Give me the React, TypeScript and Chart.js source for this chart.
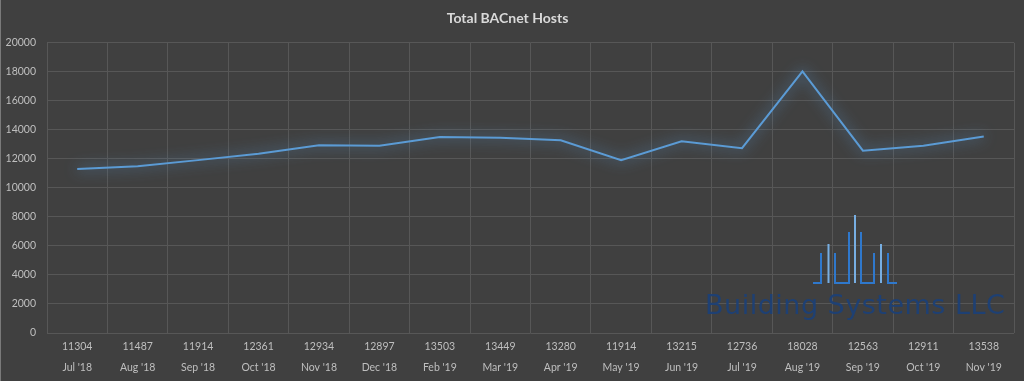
import React, { useEffect, useRef } from "react";
import { Chart, registerables } from "chart.js";

Chart.register(...registerables);

const months = ["Jul '18", "Aug '18", "Sep '18", "Oct '18", "Nov '18", "Dec '18", "Feb '19", "Mar '19", "Apr '19", "May '19", "Jun '19", "Jul '19", "Aug '19", "Sep '19", "Oct '19", "Nov '19"];
const hosts = [11304, 11487, 11914, 12361, 12934, 12897, 13503, 13449, 13280, 11914, 13215, 12736, 18028, 12563, 12911, 13538];
const yTicks = [0, 2000, 4000, 6000, 8000, 10000, 12000, 14000, 16000, 18000, 20000];

const FONT = "Lato, 'Open Sans', sans-serif";

const glowPlugin = {
  id: "glow",
  beforeDatasetDraw(chart: any) {
    const ctx = chart.ctx;
    ctx.save();
    ctx.shadowColor = "rgba(91,155,213,1)";
    ctx.shadowBlur = 14;
  },
  afterDatasetDraw(chart: any) {
    chart.ctx.restore();
  },
};

const logoPlugin = {
  id: "logo",
  beforeDatasetsDraw(chart: any) {
    const ctx = chart.ctx;
    ctx.save();
    const dark = "#2f78cc";
    const light = "#77aee2";
    ctx.lineWidth = 2;
    ctx.lineCap = "butt";
    const base = 283;
    const seg = (pts: number[][], color: string) => {
      ctx.strokeStyle = color;
      ctx.beginPath();
      ctx.moveTo(pts[0][0], pts[0][1]);
      for (let i = 1; i < pts.length; i++) ctx.lineTo(pts[i][0], pts[i][1]);
      ctx.stroke();
    };
    seg([[812, base], [820, base], [820, 253]], dark);
    seg([[827.5, 244], [827.5, base]], light);
    seg([[834, 253], [834, base], [848, base], [848, 232]], dark);
    seg([[854, 215], [854, base]], light);
    seg([[860, 232], [860, base], [873, base], [873, 253]], dark);
    seg([[880, 244], [880, base]], light);
    seg([[887, 253], [887, base], [896, base]], dark);
    ctx.fillStyle = "rgba(28,64,118,0.95)";
    ctx.font = "27px 'DejaVu Sans', sans-serif";
    try { (ctx as any).letterSpacing = "0.5px"; } catch (e) {}
    ctx.textBaseline = "alphabetic";
    ctx.textAlign = "left";
    ctx.fillText("Building Systems LLC", 704, 314, 304);
    ctx.restore();
  },
};

export default function App() {
  const ref = useRef<HTMLCanvasElement>(null);
  useEffect(() => {
    document.body.style.margin = "0";
    const chart = new Chart(ref.current!, {
      type: "line",
      data: {
        labels: months.map((m, i) => [String(hosts[i]), m]),
        datasets: [
          {
            data: hosts,
            borderColor: "#5b9bd5",
            borderWidth: 2,
            pointRadius: 0,
            tension: 0,
            fill: false,
          },
        ],
      },
      options: {
        animation: false,
        responsive: false,
        layout: { padding: { left: 0, right: 10, top: 1, bottom: 0 } },
        plugins: {
          legend: { display: false },
          tooltip: { enabled: false },
          title: {
            display: true,
            text: "Total BACnet Hosts",
            color: "#d9d9d9",
            font: { family: FONT, size: 14, weight: "bold" },
            padding: { top: 9, bottom: 16 },
          },
        },
        scales: {
          x: {
            offset: true,
            grid: { color: "#575757", offset: true, drawTicks: false },
            border: { display: false },
            ticks: {
              color: "#bfbfbf",
              font: { family: FONT, size: 10.5, lineHeight: 2 },
              padding: 3,
              maxRotation: 0,
              autoSkip: false,
            },
            afterFit(scale: any) {
              scale.height = 48;
            },
          },
          y: {
            min: 0,
            max: 20000,
            afterBuildTicks(scale: any) {
              scale.ticks = yTicks.map((v) => ({ value: v }));
            },
            grid: { color: "#575757", drawTicks: false },
            border: { display: false },
            ticks: {
              color: "#bfbfbf",
              font: { family: FONT, size: 10.5 },
              padding: 11,
              callback: (v: any) => String(v),
            },
            afterFit(scale: any) {
              scale.width = 46;
            },
          },
        },
      },
      plugins: [logoPlugin, glowPlugin],
    });
    return () => chart.destroy();
  }, []);
  return (
    <div style={{ width: 1024, height: 381, background: "#404040", boxSizing: "border-box", borderLeft: "1px solid #7a7a7a" }}>
      <canvas ref={ref} width={1023} height={381} style={{ display: "block" }} />
    </div>
  );
}
